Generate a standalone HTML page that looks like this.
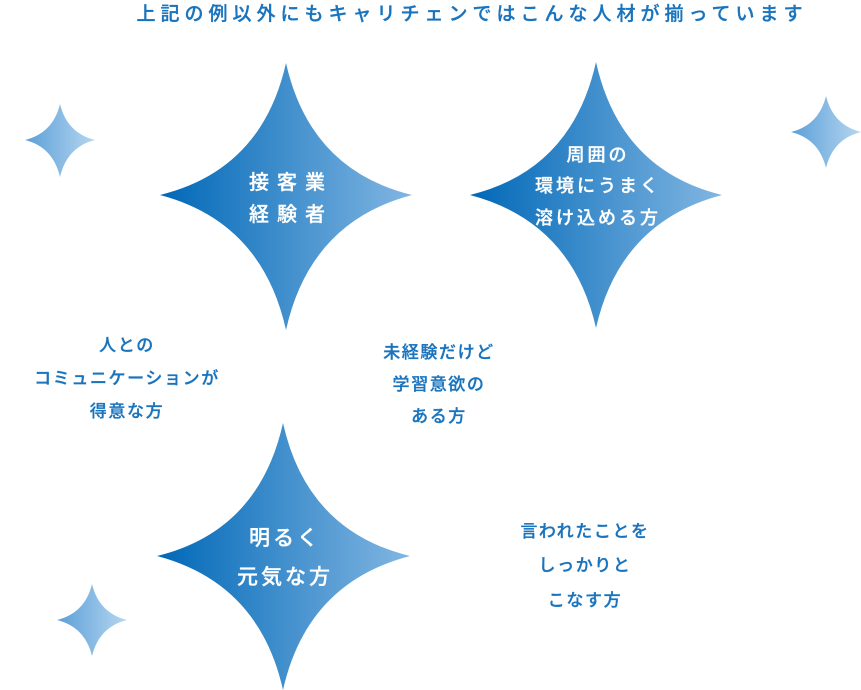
<!DOCTYPE html>
<html><head><meta charset="utf-8"><style>
html,body{margin:0;padding:0;background:#fff;}
svg{display:block;}
text{font-family:"Liberation Sans","Noto Sans CJK JP",sans-serif;font-weight:500;}
</style></head><body>
<svg width="861" height="690" viewBox="0 0 861 690" xmlns="http://www.w3.org/2000/svg">
<defs>
<linearGradient id="g" x1="0" x2="1" y1="0" y2="0">
<stop offset="0" stop-color="#0068b7"/><stop offset="1" stop-color="#82b6e2"/>
</linearGradient>
<linearGradient id="gs" x1="0" x2="1" y1="0" y2="0">
<stop offset="0" stop-color="#5a9fd8"/><stop offset="1" stop-color="#b6d6ef"/>
</linearGradient>
</defs>
<g fill="url(#g)">
<path d="M286,63 Q310,170 412,195 Q310,222 286,330 Q262,222 160,195 Q262,170 286,63Z"/>
<path d="M596,62 Q620,170 722,195 Q620,222 596,328 Q572,222 470,195 Q572,170 596,62Z"/>
<path d="M283,423 Q307,531 410,556 Q307,583 283,690 Q259,583 157,556 Q259,531 283,423Z"/>
</g>
<g fill="url(#gs)">
<path d="M60,104 Q67,133 95,140 Q67,147 60,177 Q53,147 25,140 Q53,133 60,104Z"/>
<path d="M826,96 Q833,125 861,132 Q833,139 826,168 Q819,139 791,132 Q819,125 826,96Z"/>
<path d="M92,584 Q99,613 127,620 Q99,627 92,656 Q85,627 57,620 Q85,613 92,584Z"/>
</g>
<text x="472" y="20" text-anchor="middle" font-size="19" fill="#1a74bd" stroke="#1a74bd" stroke-width="0.3" letter-spacing="5">上記の例以外にもキャリチェンではこんな人材が揃っています</text>
<g fill="#fff" stroke="#fff" stroke-width="0.3" text-anchor="middle" font-size="20" letter-spacing="8">
<text x="291" y="189">接客業</text>
<text x="291" y="221">経験者</text>
</g>
<g fill="#fff" stroke="#fff" stroke-width="0.3" text-anchor="middle" font-size="18" letter-spacing="3">
<text x="598" y="161">周囲の</text>
<text x="598" y="192">環境にうまく</text>
<text x="598" y="224">溶け込める方</text>
</g>
<g fill="#fff" stroke="#fff" stroke-width="0.3" text-anchor="middle" font-size="21" letter-spacing="3">
<text x="285" y="545">明るく</text>
<text x="285" y="584">元気な方</text>
</g>
<g fill="#1a74bd" stroke="#1a74bd" stroke-width="0.3" text-anchor="middle" font-size="17" letter-spacing="1.6">
<text x="127" y="351">人との</text>
<text x="127" y="384">コミュニケーションが</text>
<text x="127" y="417">得意な方</text>
<text x="439" y="358">未経験だけど</text>
<text x="439" y="390">学習意欲の</text>
<text x="439" y="422">ある方</text>
<text x="585" y="537">言われたことを</text>
<text x="585" y="571">しっかりと</text>
<text x="585" y="606">こなす方</text>
</g>
</svg>
</body></html>
